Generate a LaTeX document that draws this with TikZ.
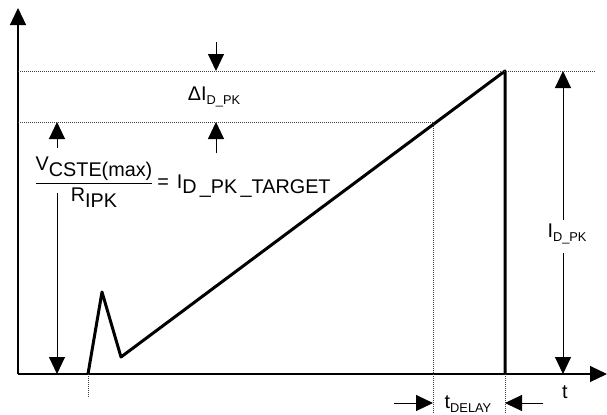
\documentclass[tikz,border=0pt]{standalone}
\usepackage{amsmath}
\usepackage{fontspec}
\setmainfont{Liberation Sans}
\usepackage{tikz}
\usetikzlibrary{positioning, arrows.meta, calc}

\newcommand{\lowsub}[1]{\raisebox{-0.55ex}{#1}}
\newcommand{\smsub}[1]{\raisebox{-0.4ex}{\fontsize{6.4}{7}\selectfont #1}}

\begin{document}
\begin{tikzpicture}[
		x=0.5pt, y=-0.5pt,
		font=\fontsize{9.9}{11}\selectfont,
		axis/.style={-{Triangle[length=8.5pt, width=8pt]}, line width=0.6pt},
		arrow/.style={-{Triangle[length=8.5pt, width=8pt]}, line width=0.5pt},
		wave/.style={line width=1.5pt, line join=round},
		guide/.style={black!75, line width=0.5pt, dash pattern=on 0.5pt off 0.5pt},
		lbl/.style={inner sep=0pt}
	]
		\useasboundingbox (0,0) rectangle (607,414);
		
		% axes
		\coordinate (orig) at (18,374);
		\coordinate (ytop) at (18,8);
		\coordinate (xend) at (607,374);
		\draw[axis] (orig) -- (ytop);
		\draw[axis] (orig) -- (xend);
		
		% current waveform
		\coordinate (start) at (88,374);
		\coordinate (spike) at (102,292);
		\coordinate (valley) at (121,357);
		\coordinate (peak) at (505,71);
		\coordinate (off) at (505,374);
		\draw[wave] (start) -- (spike) -- (valley) -- (peak) -- (off);
		
		% dotted guides
		\coordinate (pkL) at (18,71);
		\coordinate (pkR) at (595,71);
		\coordinate (tgL) at (18,122);
		\coordinate (tg) at (433,122);
		\coordinate (tgB) at (433,414);
		\coordinate (offB) at (505,414);
		\coordinate (startB) at (88,398);
		\draw[guide] (pkL) -- (pkR);
		\draw[guide] (tgL) -- (tg);
		\draw[guide] (tg) -- (tgB);
		\draw[guide] (off) -- (offB);
		\draw[guide] (start) -- (startB);
		
		% labels
		\node[lbl] (dipk) at (214,97) {ΔI\smsub{D\_PK}};
		\node[lbl, anchor=base] (ratio) at (94,188)
			{$\dfrac{\text{V\lowsub{CSTE(max)}}}{\text{R\lowsub{IPK}}}$};
		\node[lbl, anchor=base west] (target) at (157,188) {=\hspace{0.4em}I\lowsub{D\,\_PK\,\_TARGET}};
		\node[lbl] (idpk) at (567,234) {I\smsub{D\_PK}};
		\node[lbl] (tlbl) at (565,392) {t};
		\node[lbl] (tdelay) at (468,404) {t\smsub{DELAY}};
		
		% dimension arrows
		\coordinate (diA) at (216,42);
		\coordinate (diB) at (216,71);
		\coordinate (diC) at (216,153);
		\coordinate (diD) at (216,122);
		\draw[arrow] (diA) -- (diB);
		\draw[arrow] (diC) -- (diD);
		
		\coordinate (vtA) at (57,148);
		\coordinate (vtB) at (57,122);
		\coordinate (vtC) at (57,193);
		\coordinate (vtD) at (57,374);
		\draw[arrow] (vtA) -- (vtB);
		\draw[arrow] (vtC) -- (vtD);
		
		\coordinate (ipA) at (563,220);
		\coordinate (ipB) at (563,71);
		\coordinate (ipC) at (563,253);
		\coordinate (ipD) at (563,374);
		\draw[arrow] (ipA) -- (ipB);
		\draw[arrow] (ipC) -- (ipD);
		
		\coordinate (tdA) at (394,403);
		\coordinate (tdB) at (433,403);
		\coordinate (tdC) at (543,403);
		\coordinate (tdD) at (505,403);
		\draw[arrow] (tdA) -- (tdB);
		\draw[arrow] (tdC) -- (tdD);
	\end{tikzpicture}
\end{document}
